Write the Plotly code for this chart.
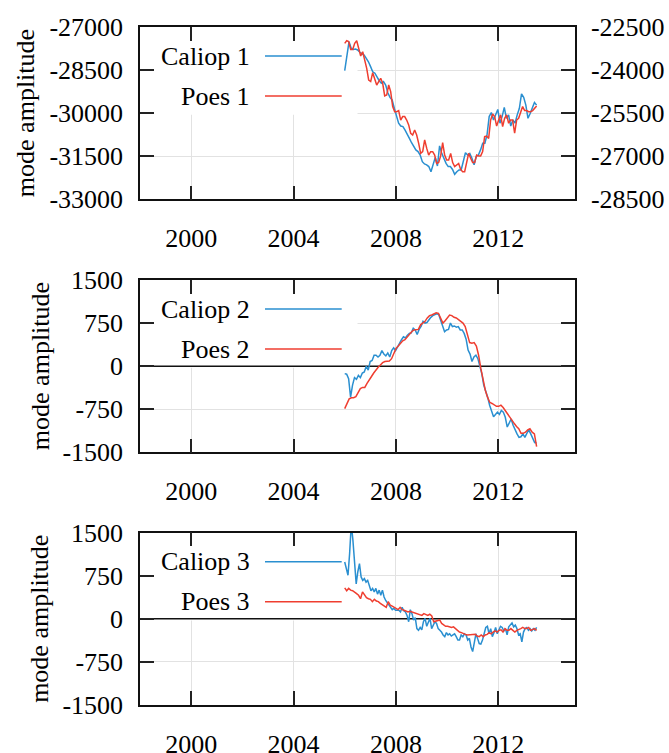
import numpy as np
import plotly.graph_objects as go

# ---------------- data ----------------
START_YEAR = 2006.0
END_YEAR = 2013.5
X_RANGE = [1998, 2015]
x_ticks = [2000, 2004, 2008, 2012]
y_ticks_top = [-33000, -31500, -30000, -28500, -27000]
y_ticks_top_right = [-28500, -27000, -25500, -24000, -22500]
y_ticks_low = [-1500, -750, 0, 750, 1500]

caliop1 = [-28520,-28030,-27510,-27740,-27780,-27770,-27800,-27880,-27920,-27980,
           -28090,-28210,-28380,-28560,-28610,-28750,-28870,-28960,-28900,-29020,
           -29290,-29450,-29540,-29830,-30120,-30350,-30450,-30470,-30590,-30760,
           -30880,-31030,-31170,-31280,-31340,-31460,-31690,-31770,-31800,-31860,
           -32040,-31750,-31540,-31840,-31140,-31400,-31610,-31750,-31860,-31860,
           -31960,-32130,-32040,-31980,-31980,-31630,-31380,-31460,-31400,-31570,
           -31800,-31510,-31460,-31280,-31050,-31050,-30760,-30120,-29980,-30240,
           -30060,-29870,-30350,-30120,-29800,-30180,-30060,-30450,-30240,-30350,
           -30060,-29830,-29330,-29450,-29720,-30180,-30010,-29800,-29630,-29720]

# Poes 1 is plotted against the right-hand axis
poes1 = [-23070,-22980,-23010,-23280,-23280,-23070,-22980,-23300,-23510,-23360,
         -23650,-23940,-24350,-24400,-24090,-24290,-24520,-24400,-24290,-24460,
         -24900,-24870,-24520,-24750,-25270,-25450,-25450,-25410,-25740,-25620,
         -25620,-25740,-25910,-26200,-26260,-26090,-26260,-26550,-26900,-26840,
         -26430,-26720,-26960,-26840,-26840,-26960,-27250,-27220,-26990,-26530,
         -26960,-27130,-27130,-26900,-27220,-27360,-27300,-27250,-27460,-27540,
         -27540,-27250,-26900,-27070,-27220,-27220,-26960,-26990,-26990,-26840,
         -26320,-26300,-26380,-25740,-25530,-25620,-25950,-25740,-25560,-25970,
         -25680,-25560,-25850,-25740,-25740,-26200,-25740,-25680,-25450,-25270,
         -25410,-25410,-25450,-25450,-25410,-25330,-25250]

caliop2 = [-130,-140,-220,-540,-330,-200,-230,-160,-200,-120,-100,0,-70,80,100,
           190,190,160,190,270,210,180,230,160,270,320,270,340,410,460,510,490,
           540,570,580,660,630,550,640,690,780,750,760,810,850,880,890,910,900,
           810,720,600,630,640,750,690,700,680,690,630,630,570,470,280,210,80,160,
           190,130,-10,-130,-330,-420,-540,-680,-770,-880,-840,-800,-840,-770,-800,
           -890,-1060,-980,-920,-1030,-1120,-1180,-1240,-1230,-1180,-1240,-1170,
           -1110,-1180,-1270,-1330,-1340]

poes2 = [-740,-650,-570,-550,-550,-530,-470,-390,-370,-370,-300,-230,-180,-120,
         -60,-20,20,60,80,90,90,130,220,310,350,400,440,460,510,540,600,630,640,
         640,720,750,780,840,880,890,910,930,920,840,750,790,840,890,880,850,840,
         810,790,750,690,540,410,400,410,350,190,-40,-250,-420,-540,-630,-650,
         -680,-700,-700,-680,-720,-780,-840,-890,-950,-1000,-1050,-1090,-1170,
         -1170,-1150,-1110,-1090,-1150,-1180,-1400]

caliop3 = [990,870,760,1140,1650,1370,900,610,820,960,730,670,700,640,670,560,490,
           530,470,530,430,500,410,500,380,320,280,240,200,160,180,150,150,150,120,
           200,140,120,60,-50,160,90,-20,20,-170,-200,-150,-190,-50,10,-130,-50,10,
           -170,-110,-50,-80,-170,-200,-230,-280,-310,-240,-280,-260,-300,-280,-260,
           -310,-370,-370,-280,-310,-260,-280,-370,-340,-490,-570,-430,-260,-340,
           -430,-440,-370,-260,-150,-130,-260,-170,-310,-240,-150,-260,-200,-130,
           -150,-210,-170,-280,-140,-110,-70,-140,-110,-170,-280,-260,-400,-230,
           -170,-150,-200,-170,-210,-170,-200,-150]

poes3 = [540,490,530,500,490,470,440,410,350,470,410,370,350,340,300,340,310,300,
         270,250,220,200,300,240,220,200,180,160,200,160,150,140,120,130,120,100,
         90,80,80,60,90,80,60,80,50,-50,-40,-40,-20,-80,-110,-130,-130,-140,-150,
         -140,-170,-200,-230,-240,-260,-270,-280,-280,-280,-280,-270,-300,-310,
         -280,-310,-280,-270,-240,-260,-230,-210,-230,-200,-190,-230,-170,-200,
         -200,-170,-200,-230,-200,-190,-170,-150,-170,-170,-150,-200,-190,-170,-200]

legend_names = [("Caliop 1", "Poes 1"), ("Caliop 2", "Poes 2"), ("Caliop 3", "Poes 3")]

# ---------------- style ----------------
BLUE = "#2a8fd0"
RED = "#ef3e30"
FONT = "Liberation Serif"
FS = 26
W, H = 669, 753
ML, MR, MT, MB = 140, 94, 27, 48
PW = W - ML - MR
PH = H - MT - MB


def years(n):
    return np.linspace(START_YEAR, END_YEAR, n)


fig = go.Figure()
fig.add_trace(go.Scatter(x=years(len(caliop1)), y=caliop1, mode="lines",
                         line=dict(color=BLUE, width=1.5), xaxis="x", yaxis="y",
                         name="Caliop 1", showlegend=False))
fig.add_trace(go.Scatter(x=years(len(poes1)), y=poes1, mode="lines",
                         line=dict(color=RED, width=1.5), xaxis="x", yaxis="y2",
                         name="Poes 1", showlegend=False))
fig.add_trace(go.Scatter(x=years(len(caliop2)), y=caliop2, mode="lines",
                         line=dict(color=BLUE, width=1.5), xaxis="x2", yaxis="y3",
                         name="Caliop 2", showlegend=False))
fig.add_trace(go.Scatter(x=years(len(poes2)), y=poes2, mode="lines",
                         line=dict(color=RED, width=1.5), xaxis="x2", yaxis="y3",
                         name="Poes 2", showlegend=False))
fig.add_trace(go.Scatter(x=years(len(caliop3)), y=caliop3, mode="lines",
                         line=dict(color=BLUE, width=1.5), xaxis="x3", yaxis="y4",
                         name="Caliop 3", showlegend=False))
fig.add_trace(go.Scatter(x=years(len(poes3)), y=poes3, mode="lines",
                         line=dict(color=RED, width=1.5), xaxis="x3", yaxis="y4",
                         name="Poes 3", showlegend=False))

tickfont = dict(family=FONT, size=FS, color="black")
common_ax = dict(showline=True, linecolor="#111", linewidth=1.5, ticks="inside",
                 ticklen=14, tickwidth=1.5, tickcolor="#222", tickfont=tickfont,
                 showgrid=True, gridcolor="#e2e2e2", gridwidth=1, zeroline=False,
                 automargin=False)


def yticks(vals):
    return dict(tickmode="array", tickvals=vals, ticktext=[str(v) for v in vals],
                range=[vals[0], vals[-1]])


ph = 172.3 / PH
dom_top = [1 - ph, 1]
dom_mid = [(705 - 452.3) / PH, (705 - 280) / PH]
dom_bot = [0, ph]

xcommon = dict(common_ax, range=X_RANGE, tickmode="array", tickvals=x_ticks,
               ticktext=[str(v) for v in x_ticks], mirror="ticks",
               ticklabelstandoff=15)
ycommon = dict(common_ax, mirror="ticks", ticklabelstandoff=10)

fig.update_layout(
    template="none",
    width=W, height=H, margin=dict(l=ML, r=MR, t=MT, b=MB, autoexpand=False),
    paper_bgcolor="white", plot_bgcolor="white",
    font=dict(family=FONT, size=FS, color="black"),
    showlegend=False,
    xaxis=dict(xcommon, anchor="y", domain=[0, 1]),
    yaxis=dict(ycommon, anchor="x", domain=dom_top, **yticks(y_ticks_top)),
    yaxis2=dict(common_ax, overlaying="y", side="right", anchor="x",
                showgrid=False, ticklabelstandoff=9, **yticks(y_ticks_top_right)),
    xaxis2=dict(xcommon, anchor="y3", domain=[0, 1]),
    yaxis3=dict(ycommon, anchor="x2", domain=dom_mid, **yticks(y_ticks_low)),
    xaxis3=dict(xcommon, anchor="y4", domain=[0, 1]),
    yaxis4=dict(ycommon, anchor="x3", domain=dom_bot, **yticks(y_ticks_low)),
)

shapes = []
annotations = []
panels = [("x", "y", y_ticks_top, False), ("x2", "y3", y_ticks_low, True),
          ("x3", "y4", y_ticks_low, True)]
title_x_px = [25, 40, 40]
for i, (xa, ya, yt, has_zero) in enumerate(panels):
    xd, yd = f"{xa} domain", f"{ya} domain"
    y_lo, y_hi = yt[0], yt[-1]
    # opaque key box (drawn above grid, below data)
    shapes.append(dict(type="rect", xref=xa, yref=ya,
                       x0=X_RANGE[0], x1=X_RANGE[0] + 0.5 * (X_RANGE[1] - X_RANGE[0]),
                       y0=y_lo + 0.49 * (y_hi - y_lo), y1=y_hi,
                       fillcolor="white", line=dict(width=0), layer="between"))
    if has_zero:
        shapes.append(dict(type="line", xref=xa, yref=ya, x0=X_RANGE[0], x1=X_RANGE[1],
                           y0=0, y1=0, line=dict(color="#111", width=1.5),
                           layer="between"))
    ly1 = 1 - 29 / 172.3
    ly2 = 1 - 69 / 172.3
    lx0, lx1 = 125 / PW, 201.7 / PW
    shapes.append(dict(type="line", xref=xd, yref=yd, x0=lx0, x1=lx1, y0=ly1, y1=ly1,
                       line=dict(color=BLUE, width=1.5), layer="above"))
    shapes.append(dict(type="line", xref=xd, yref=yd, x0=lx0, x1=lx1, y0=ly2, y1=ly2,
                       line=dict(color=RED, width=1.5), layer="above"))
    for name, ly in zip(legend_names[i], (ly1, ly2)):
        annotations.append(dict(text=name, xref=xd, yref=yd, x=112 / PW, y=ly,
                                xanchor="right", yanchor="middle", showarrow=False,
                                font=dict(family=FONT, size=FS, color="black")))
    dom = [dom_top, dom_mid, dom_bot][i]
    annotations.append(dict(text="mode amplitude", textangle=-90, xref="paper",
                            yref="paper", x=(title_x_px[i] - ML) / PW,
                            y=(dom[0] + dom[1]) / 2, xanchor="center",
                            yanchor="middle", showarrow=False,
                            font=dict(family=FONT, size=FS, color="black")))

fig.update_layout(shapes=shapes, annotations=annotations)
fig.write_html("out.html")
